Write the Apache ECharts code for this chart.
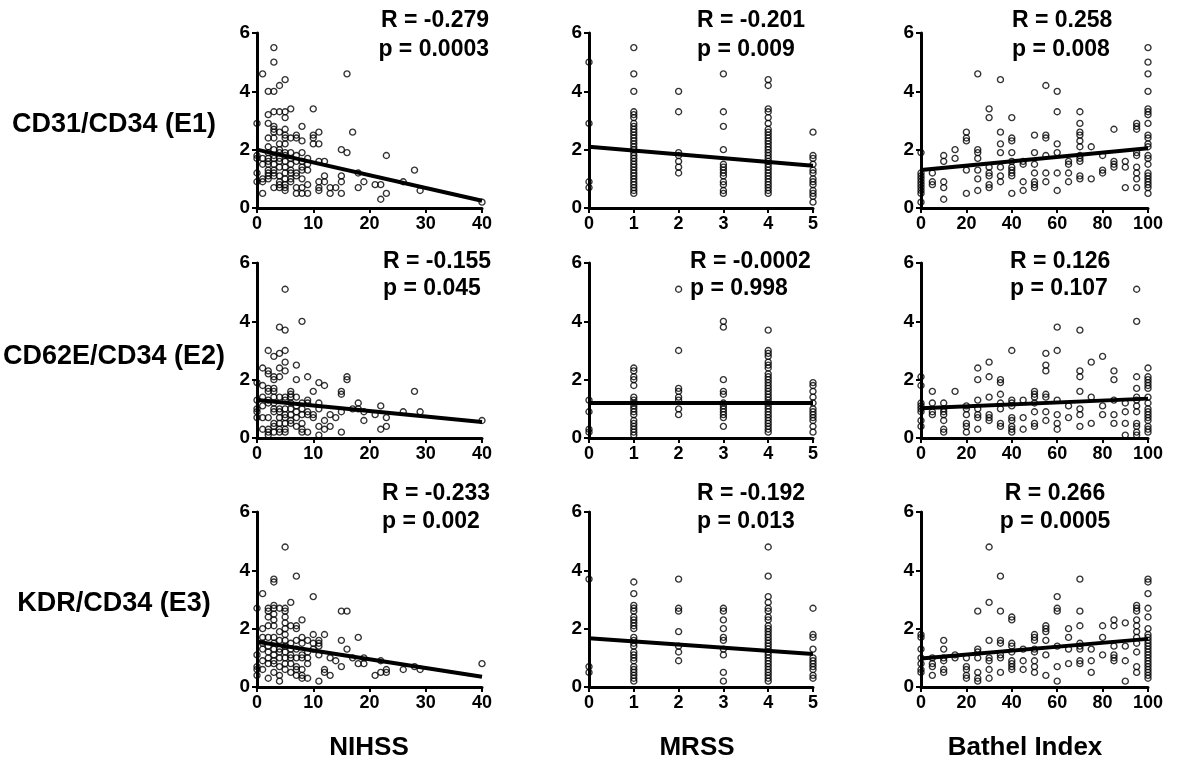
<!DOCTYPE html>
<html>
<head>
<meta charset="utf-8">
<script src="https://cdn.jsdelivr.net/npm/echarts@6/dist/echarts.min.js"></script>
<style>html,body{margin:0;padding:0;background:#fff}#chart{width:1200px;height:766px}</style>
</head>
<body>
<div id="chart"></div>
<script>
// ---- Data: [x, [y values at that x]] ----
const nihssE1 = [
  [0,[2.9,1.8,1.7,1.2,0.9]],[1,[4.6,1.7,1.5,1.0,0.9,0.5]],
  [2,[4.0,3.2,2.9,2.4,2.1,1.9,1.7,1.6,1.5,1.3,1.2,1.1,1.0]],
  [3,[5.5,5.0,4.0,3.3,2.8,2.7,2.6,2.4,2.0,1.8,1.7,1.5,1.3,1.2,1.1,0.7]],
  [4,[4.2,3.3,2.6,2.2,2.0,1.9,1.7,1.6,1.4,1.1,0.9,0.8,0.7]],
  [5,[4.4,3.3,3.1,2.7,2.5,2.4,2.2,1.9,1.8,1.6,1.4,1.2,1.0,0.8,0.7,0.6]],
  [6,[3.4,2.4,1.9,1.7,1.5,1.3,1.2,1.0,0.9]],[7,[2.5,2.4,1.8,1.6,1.2,1.1,0.7,0.5]],
  [8,[2.8,2.3,1.9,1.6,1.4,1.3,1.0,0.7,0.5]],[9,[1.7,1.5,1.3,0.8,0.5]],
  [10,[3.4,2.5,2.4,2.2]],[11,[2.6,2.2,1.6,0.9,0.7,0.6]],[12,[1.6,1.1,0.9]],
  [13,[0.7,0.5]],[14,[0.7]],[15,[2.0,1.1,0.9,0.5]],[16,[4.6,1.9]],[17,[2.6]],
  [18,[1.2,0.7]],[19,[0.9]],[21,[0.8]],[22,[0.8,0.3]],[23,[1.8,0.5]],[26,[0.9]],
  [28,[1.3]],[29,[0.6]],[40,[0.2]]
];
const mrssE1 = [
  [0,[5.0,2.9,0.9,0.7]],
  [1,[5.5,4.6,4.0,3.3,3.2,3.1,2.9,2.8,2.7,2.6,2.5,2.4,2.3,2.2,2.1,2.0,1.9,1.8,1.7,1.6,1.5,1.4,1.3,1.2,1.1,1.0,0.9,0.8,0.7,0.6,0.5]],
  [2,[4.0,3.3,1.9,1.8,1.6,1.4,1.2]],
  [3,[4.6,3.3,2.8,2.0,1.5,1.4,1.3,1.2,1.1,0.9,0.8,0.6,0.5]],
  [4,[4.4,4.2,3.4,3.3,3.1,2.9,2.7,2.6,2.5,2.4,2.3,2.2,2.1,2.0,1.9,1.8,1.7,1.6,1.5,1.4,1.3,1.2,1.1,1.0,0.9,0.8,0.7,0.6,0.5]],
  [5,[2.6,1.8,1.7,1.5,1.3,1.2,1.0,0.9,0.8,0.6,0.5,0.4,0.2]]
];
const barthelE1 = [
  [0,[1.9,1.2,1.1,1.0,0.9,0.8,0.7,0.6,0.5,0.2]],[5,[1.2,0.9,0.8]],[10,[1.8,1.6,0.9,0.7,0.3]],
  [15,[2.0,1.7]],[20,[2.6,2.4,2.3,1.3,0.5]],[25,[4.6,2.0,1.9,1.7,1.3,1.0,0.6]],
  [30,[3.4,3.1,1.4,1.2,1.1,0.8,0.7]],[35,[4.4,2.6,2.2,1.9,1.4,1.1,0.9]],
  [40,[3.1,2.4,2.3,1.9,1.6,1.4,1.3,1.2,1.1,0.5]],[45,[1.6,1.5,0.9,0.6]],
  [50,[2.5,1.9,1.5,1.2,0.9,0.8,0.7]],[55,[4.2,2.5,2.4,1.8,1.2,0.9]],
  [60,[4.0,3.3,2.2,1.9,1.2,0.6]],[65,[1.6,1.5,1.2,0.9]],
  [70,[3.3,2.9,2.6,2.5,2.3,2.1,1.8,1.7,1.6,1.1,1.0]],[75,[2.1,1.0]],[80,[1.8,1.3,1.2]],
  [85,[2.7,1.6,1.5,1.4]],[90,[1.6,1.4,0.7]],[95,[2.9,2.8,2.7,1.9,1.8,1.4,1.2,1.0,0.7]],
  [100,[5.5,5.0,4.6,4.0,3.4,3.3,3.2,2.9,2.5,2.4,2.2,2.1,1.8,1.7,1.5,1.2,1.1,1.0,0.9,0.8,0.7,0.5]]
];
const nihssE2 = [
  [0,[1.9,1.3,1.0,0.9,0.7]],[1,[2.4,1.8,1.4,1.1,0.7,0.3]],
  [2,[3.0,2.3,2.2,1.7,1.6,1.3,1.2,0.7,0.3,0.2,0.1]],
  [3,[2.8,2.1,2.0,1.7,1.6,1.4,1.2,1.0,0.9,0.5,0.4,0.2]],
  [4,[3.8,2.9,2.4,2.1,1.4,1.0,0.9,0.7,0.5,0.3,0.2]],
  [5,[5.1,3.7,3.0,2.6,2.3,1.4,1.3,1.0,0.8,0.7,0.5,0.3,0.2]],
  [6,[1.6,1.5,1.4,1.2,1.0,0.8,0.6,0.5]],[7,[2.5,2.0,1.4,1.1,0.9,0.7,0.4]],
  [8,[4.0,1.2,1.0,0.8,0.5,0.3,0.2]],[9,[2.1,1.3,1.2,0.9,0.8,0.2]],
  [10,[1.6,0.8,0.7]],[11,[1.9,1.2,1.0,0.4,0.1]],[12,[1.8,0.6,0.3]],[13,[0.8,0.4]],
  [14,[0.7]],[15,[1.6,1.5,0.9,0.2]],[16,[2.1,2.0]],[17,[1.0]],[18,[1.2,1.0]],
  [19,[0.9,0.6]],[21,[0.8]],[22,[1.1,0.3]],[23,[0.7,0.4]],[26,[0.9]],[28,[1.6]],
  [29,[0.9]],[40,[0.6]]
];
const mrssE2 = [
  [0,[1.3,0.9,0.3,0.2]],
  [1,[2.4,2.3,2.1,2.0,1.8,1.4,1.3,1.2,1.1,1.0,0.9,0.8,0.6,0.5,0.4,0.3,0.2,0.1]],
  [2,[5.1,3.0,1.7,1.6,1.4,1.3,1.0,0.8]],
  [3,[4.0,3.8,2.0,1.6,1.5,1.2,1.1,1.0,0.9,0.8,0.7,0.4]],
  [4,[3.7,3.0,2.9,2.8,2.6,2.5,2.4,2.2,2.1,2.0,1.9,1.8,1.7,1.6,1.5,1.4,1.3,1.2,1.1,1.0,0.9,0.8,0.7,0.6,0.5,0.4,0.3,0.2]],
  [5,[1.9,1.8,1.6,1.4,1.2,1.0,0.9,0.8,0.7,0.6,0.4,0.2]]
];
const barthelE2 = [
  [0,[2.1,1.8,1.2,1.1,1.0,0.9,0.6,0.4]],[5,[1.6,1.2,0.9,0.8]],[10,[1.2,1.0,0.9,0.8,0.6,0.3,0.2]],
  [15,[1.6]],[20,[1.1,1.0,0.8,0.5,0.4,0.2]],[25,[2.4,2.0,1.3,1.0,0.8,0.7,0.3]],
  [30,[2.6,2.1,1.4,0.8,0.7,0.6]],[35,[2.0,1.9,1.5,1.2,1.0,0.5,0.4]],
  [40,[3.0,1.3,1.2,1.1,0.7,0.6,0.4,0.3,0.2]],[45,[1.3,0.7,0.3]],
  [50,[1.6,1.5,1.4,1.2,0.9,0.5,0.4]],[55,[2.9,2.5,2.3,1.5,1.4,0.9,0.6]],
  [60,[3.8,3.0,1.3,0.8,0.5,0.3]],[65,[1.1,0.7]],[70,[3.7,2.3,2.1,1.6,1.0,0.8,0.4]],
  [75,[2.6,1.4,0.5]],[80,[2.8,1.1,0.8]],[85,[2.3,2.0,1.3,0.8,0.5]],[90,[1.2,0.9,0.5,0.1]],
  [95,[5.1,4.0,2.1,1.7,1.4,1.3,1.1,0.9,0.5,0.4,0.2,0.1]],
  [100,[2.4,2.1,2.0,1.9,1.8,1.7,1.4,1.2,1.0,0.9,0.8,0.7,0.6,0.4,0.3,0.2]]
];
const nihssE3 = [
  [0,[2.7,1.1,0.7,0.6,0.4]],[1,[3.2,2.0,1.7,1.5,1.3,0.9,0.6]],
  [2,[2.7,2.6,2.4,2.1,1.7,1.4,1.2,1.0,0.8,0.3]],
  [3,[3.7,3.6,2.8,2.7,2.5,2.3,2.1,1.7,1.5,1.3,1.1,0.9,0.8,0.5]],
  [4,[2.7,1.9,1.6,1.3,1.2,1.0,0.7,0.4,0.2]],
  [5,[4.8,2.7,2.6,2.4,2.2,2.0,1.8,1.6,1.4,1.2,1.0,0.8,0.6]],
  [6,[2.9,2.1,1.5,1.3,1.1,1.0,0.8,0.5]],[7,[3.8,2.1,2.0,1.6,1.3,1.0,0.7,0.6,0.4]],
  [8,[2.3,1.7,1.5,1.1,1.0,0.6,0.4,0.3]],[9,[1.6,1.2,1.0,0.8,0.3]],
  [10,[3.1,1.8,1.5,1.3]],[11,[1.6,1.5,1.4,1.1,0.2]],[12,[1.8,0.6,0.5]],[13,[1.0,0.4]],
  [14,[0.9]],[15,[2.6,1.6,0.7]],[16,[2.6,1.3]],[17,[1.0]],[18,[1.7,0.8]],[19,[1.0,0.8]],
  [21,[0.4]],[22,[0.9,0.5]],[23,[0.6,0.5]],[26,[0.6]],[28,[0.7]],[29,[0.6]],[40,[0.8]]
];
const mrssE3 = [
  [0,[3.7,0.7,0.5]],
  [1,[3.6,3.2,2.8,2.7,2.6,2.4,2.3,2.2,2.1,2.0,1.7,1.6,1.5,1.4,1.2,1.1,1.0,0.9,0.7,0.6,0.5,0.4,0.3,0.2]],
  [2,[3.7,2.7,2.6,1.9,1.4,1.2,0.9]],
  [3,[2.7,2.6,2.3,2.0,1.7,1.6,1.3,1.1,0.5,0.2]],
  [4,[4.8,3.8,3.1,2.9,2.7,2.6,2.4,2.3,2.1,2.0,1.9,1.8,1.7,1.6,1.5,1.4,1.3,1.2,1.1,1.0,0.9,0.8,0.7,0.6,0.5,0.4,0.3,0.2]],
  [5,[2.7,1.8,1.7,1.3,1.0,0.9,0.8,0.7,0.6,0.4,0.3]]
];
const barthelE3 = [
  [0,[1.8,1.7,1.3,1.0,0.8,0.6,0.5]],[5,[1.0,0.8,0.7,0.4]],[10,[1.6,1.3,1.0,0.9,0.6,0.5]],
  [15,[1.1,1.0]],[20,[1.0,0.7,0.6,0.4,0.3]],[25,[2.6,1.3,1.2,1.0,0.5,0.3,0.2]],
  [30,[4.8,2.9,1.6,1.0,0.9,0.6,0.3]],[35,[3.8,2.6,1.6,1.5,1.1,1.0,0.5]],
  [40,[2.4,2.3,1.5,1.4,1.2,0.9,0.8,0.7,0.6]],[45,[1.3,0.9,0.6]],
  [50,[1.8,1.7,1.6,1.3,1.2,0.9,0.7,0.5]],[55,[2.1,2.0,1.9,1.6,1.1,0.4]],
  [60,[3.1,2.7,2.6,1.4,0.7,0.2]],[65,[2.0,1.7,1.3,0.8]],
  [70,[3.7,2.6,2.1,1.5,1.4,1.3,0.9,0.8]],[75,[1.3,0.9,0.5]],[80,[2.1,1.7,1.1]],
  [85,[2.3,2.1,1.4,1.1,1.0,0.9]],[90,[2.2,1.4,0.9,0.2]],
  [95,[2.8,2.7,2.6,2.3,2.1,1.9,1.7,1.5,1.2,0.7,0.5]],
  [100,[3.7,3.6,3.2,2.7,2.4,2.0,1.8,1.7,1.6,1.5,1.4,1.3,1.2,1.1,1.0,0.9,0.8,0.7,0.6,0.5,0.4,0.3]]
];

// Regression line endpoints
const fitNihssE1 = [[0,2.0],[40,0.25]];
const fitMrssE1 = [[0,2.1],[5,1.45]];
const fitBarthelE1 = [[0,1.3],[100,2.05]];
const fitNihssE2 = [[0,1.3],[40,0.55]];
const fitMrssE2 = [[0,1.2],[5,1.2]];
const fitBarthelE2 = [[0,1.02],[100,1.35]];
const fitNihssE3 = [[0,1.55],[40,0.35]];
const fitMrssE3 = [[0,1.67],[5,1.13]];
const fitBarthelE3 = [[0,0.98],[100,1.65]];

// Labels
const rowLabels = ['CD31/CD34 (E1)', 'CD62E/CD34 (E2)', 'KDR/CD34 (E3)'];
const colLabels = ['NIHSS', 'MRSS', 'Bathel Index'];
const rValues = ['R = -0.279','R = -0.201','R = 0.258','R = -0.155','R = -0.0002','R = 0.126','R = -0.233','R = -0.192','R = 0.266'];
const pValues = ['p = 0.0003','p = 0.009','p = 0.008','p = 0.045','p = 0.998','p = 0.107','p = 0.002','p = 0.013','p = 0.0005'];
const yTicks = [0, 2, 4, 6];
const xRanges = [[0,40,10],[0,5,1],[0,100,20]];

// ---- Layout ----
const FONT = '"Liberation Sans", Arial, Helvetica, sans-serif';
const lefts = [257, 589, 921], widths = [225, 224, 227];
const tops = [33, 263, 512], H = 175;
const panels = [
  [nihssE1, mrssE1, barthelE1],
  [nihssE2, mrssE2, barthelE2],
  [nihssE3, mrssE3, barthelE3]
];
const fits = [
  [fitNihssE1, fitMrssE1, fitBarthelE1],
  [fitNihssE2, fitMrssE2, fitBarthelE2],
  [fitNihssE3, fitMrssE3, fitBarthelE3]
];
// annotation anchors [x, align]
const annoPos = [
  [489,'right'],[697,'left'],[1012,'left'],
  [383,'left'],[690,'left'],[1010,'left'],
  [382,'left'],[697,'left'],[1055,'center']
];
const annoY = [[21,50],[262,289],[494,522]];

function expand(groups){
  const out = [];
  groups.forEach(g => g[1].forEach(y => out.push([g[0], y])));
  return out;
}

const grid = [], xAxis = [], yAxis = [], series = [], graphic = [];
for (let r = 0; r < 3; r++) {
  for (let c = 0; c < 3; c++) {
    const i = r*3 + c;
    grid.push({left: lefts[c], top: tops[r], width: widths[c], height: H, containLabel: false});
    const xr = xRanges[c];
    xAxis.push({
      gridIndex: i, type: 'value', min: xr[0], max: xr[1], interval: xr[2],
      axisLine: {show: true, onZero: false, lineStyle: {color: '#000', width: 3}},
      axisTick: {show: true, length: 5, lineStyle: {color: '#000', width: 2}},
      axisLabel: {color: '#000', fontFamily: FONT, fontWeight: 'bold', fontSize: 18, margin: 7},
      splitLine: {show: false}
    });
    yAxis.push({
      gridIndex: i, type: 'value', min: yTicks[0], max: yTicks[yTicks.length-1], interval: 2,
      axisLine: {show: true, onZero: false, lineStyle: {color: '#000', width: 3}},
      axisTick: {show: true, length: 5, lineStyle: {color: '#000', width: 2}},
      axisLabel: {color: '#000', fontFamily: FONT, fontWeight: 'bold', fontSize: 19, margin: 7},
      splitLine: {show: false}
    });
    series.push({
      type: 'scatter', xAxisIndex: i, yAxisIndex: i, data: expand(panels[r][c]),
      symbol: 'circle', symbolSize: 6, clip: false, z: 3,
      itemStyle: {color: 'rgba(255,255,255,0)', borderColor: '#000', borderWidth: 1.4},
      emphasis: {disabled: true}, silent: true
    });
    series.push({
      type: 'line', xAxisIndex: i, yAxisIndex: i, data: fits[r][c],
      showSymbol: false, symbol: 'none', clip: false, z: 4,
      lineStyle: {color: '#000', width: 4}, silent: true
    });
    const ap = annoPos[i];
    graphic.push({type: 'text', x: ap[0], y: annoY[r][0], style: {
      text: rValues[i], font: 'bold 23px ' + FONT, fill: '#000', align: ap[1], verticalAlign: 'middle'}});
    graphic.push({type: 'text', x: ap[0], y: annoY[r][1], style: {
      text: pValues[i], font: 'bold 23px ' + FONT, fill: '#000', align: ap[1], verticalAlign: 'middle'}});
  }
}
const rowY = [125, 357, 604];
rowLabels.forEach((t, r) => graphic.push({type: 'text', x: 114, y: rowY[r], style: {
  text: t, font: 'bold 27px ' + FONT, fill: '#000', align: 'center', verticalAlign: 'middle'}}));
const colX = [369, 697, 1025];
colLabels.forEach((t, c) => graphic.push({type: 'text', x: colX[c], y: 748, style: {
  text: t, font: 'bold 26px ' + FONT, fill: '#000', align: 'center', verticalAlign: 'middle'}}));

const chart = echarts.init(document.getElementById('chart'), null, {renderer: 'canvas'});
chart.setOption({
  animation: false, backgroundColor: '#fff',
  grid, xAxis, yAxis, series, graphic
});
</script>
</body>
</html>
